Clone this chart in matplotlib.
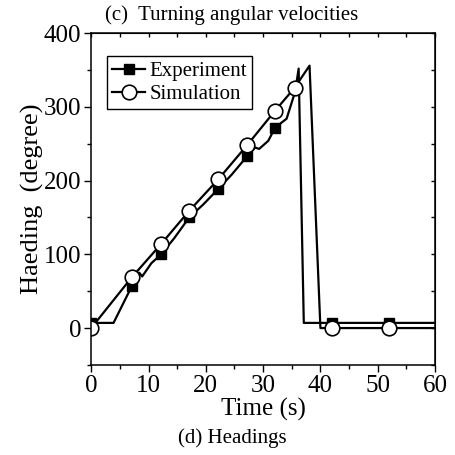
import numpy as np
import matplotlib.pyplot as plt
from matplotlib.ticker import MultipleLocator

plt.rcParams['font.family'] = ['Liberation Serif', 'DejaVu Serif']
plt.rcParams['mathtext.fontset'] = 'stix'

# Experiment heading (s, degree)
exp_t = [0.0, 3.9, 7.1, 8.4, 8.9, 10.5, 12.2, 14.5, 17.1, 19.6, 22.2, 24.5, 27.2,
         28.6, 29.3, 30.9, 32.1, 34.1, 35.6, 36.2, 37.1, 42.0, 52.0, 60.0]
exp_h = [7, 7, 57, 75, 70, 88, 100, 122, 150, 168, 189, 208, 233,
         245, 243, 254, 272, 284, 321, 352, 7, 7, 7, 7]
exp_marks = [0, 2, 6, 8, 10, 12, 16, 21, 22]

# Simulation heading (s, degree)
sim_t = [0.0, 7.1, 12.2, 17.1, 22.2, 27.2, 32.1, 35.5, 38.1, 40.0, 42.0, 52.0, 60.0]
sim_h = [0, 69, 114, 159, 202, 248, 295, 326, 356, 0, 0, 0, 0]
sim_marks = [0, 1, 2, 3, 4, 5, 6, 7, 10, 11]

fig = plt.figure(figsize=(4.56, 4.55), dpi=100)
ax = fig.add_axes([0.2, 0.198, 0.754, 0.729])

ax.plot(exp_t, exp_h, color='black', lw=1.6, marker='s', ms=7.5,
        mfc='black', mec='black', markevery=exp_marks, label='Experiment')
ax.plot(sim_t, sim_h, color='black', lw=1.6, marker='o', ms=10.5,
        mfc='white', mec='black', mew=1.2, markevery=sim_marks, label='Simulation')

ax.set_xlim(0, 60)
ax.set_ylim(-50, 400)
ax.xaxis.set_major_locator(MultipleLocator(10))
ax.xaxis.set_minor_locator(MultipleLocator(5))
ax.yaxis.set_major_locator(MultipleLocator(100))
ax.yaxis.set_minor_locator(MultipleLocator(50))
ax.tick_params(which='major', direction='out', length=5, width=1, labelsize=18, pad=2)
ax.tick_params(which='minor', direction='out', length=3, width=1)
for s in ax.spines.values():
    s.set_linewidth(1.1)

# inward ticks on top and right
top = ax.secondary_xaxis('top')
top.xaxis.set_major_locator(MultipleLocator(10))
top.xaxis.set_minor_locator(MultipleLocator(5))
top.tick_params(which='both', direction='in', length=3, width=1, labeltop=False)
right = ax.secondary_yaxis('right')
right.yaxis.set_major_locator(MultipleLocator(100))
right.yaxis.set_minor_locator(MultipleLocator(50))
right.tick_params(which='both', direction='in', length=3, width=1, labelright=False)

ax.set_ylabel('Haeding  (degree)', fontsize=19, labelpad=0)
ax.set_xlabel('Time (s)', fontsize=18, labelpad=1)

leg = ax.legend(loc='upper left', bbox_to_anchor=(0.045, 0.93), fontsize=15,
                frameon=True, fancybox=False, edgecolor='black', framealpha=1,
                handlelength=1.6, handletextpad=0.2, borderpad=0.25,
                labelspacing=0.15, borderaxespad=0)
leg.get_frame().set_linewidth(1.0)

fig.text(0.507, 0.966, '(c)  Turning angular velocities', ha='center', va='center', fontsize=15)
fig.text(0.509, 0.038, '(d) Headings', ha='center', va='center', fontsize=15)

fig.savefig('out.png', dpi=100)
